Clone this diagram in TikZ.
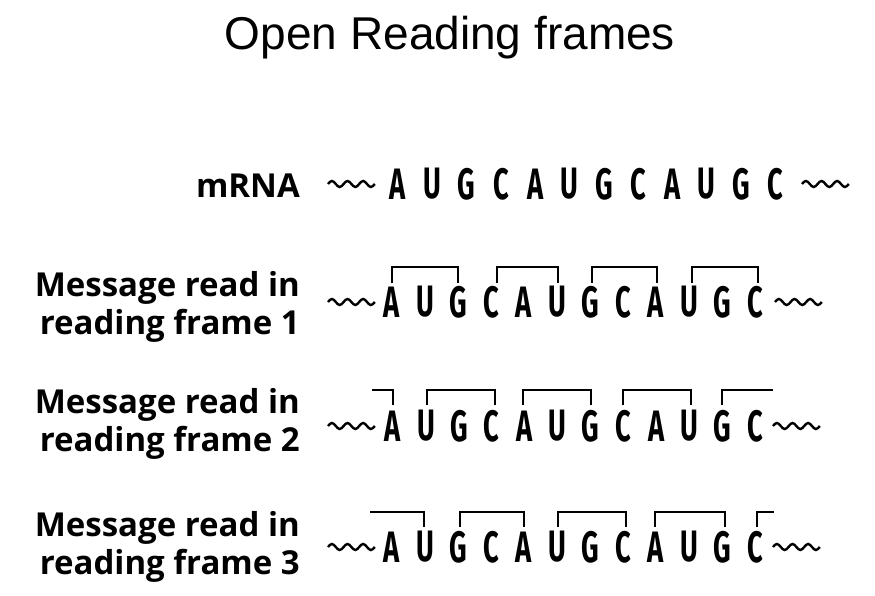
\documentclass[tikz,border=0pt]{standalone}
\usepackage{fontspec}
\setmainfont{Liberation Sans}
\newfontfamily\lab{Open Sans}
\newfontfamily\nuc{Fira Sans}
\newcommand\wavepart{sin ++(3.9,-3) cos ++(3.9,3) sin ++(3.9,3) cos ++(3.9,-3)}
\begin{document}
\begin{tikzpicture}[x=1pt,y=-1pt,
  lbl/.style={font=\lab\bfseries\fontsize{33}{38}\selectfont,anchor=east,align=right,inner sep=0},
  base/.style={font=\nuc\bfseries\fontsize{44}{44}\selectfont,xscale=0.62,transform shape,inner sep=0},
  brk/.style={line width=2.8pt},
  wave/.style={line width=2.4pt}]
\useasboundingbox (0,0) rectangle (875,596);
\fill[white] (0,0) rectangle (875,596);
\node[font=\fontsize{46}{50}\selectfont] (title) at (450,38) {Open Reading frames};
\node[lbl] (l0) at (300,186) {mRNA};
\node[lbl] (l1) at (300,307) {Message read in\\reading frame 1};
\node[lbl] (l2) at (300,424) {Message read in\\reading frame 2};
\node[lbl] (l3) at (300,547) {Message read in\\reading frame 3};
\foreach \r/\y/\x/\d in {0/184/398/34.3, 1/302/392/33.0, 2/426/393/32.9, 3/547/392/33.0}{
  \foreach \b [count=\i] in {A,U,G,C,A,U,G,C,A,U,G,C}{
    \node[base] (b\r-\i) at ({\x+(\i-1)*\d},\y) {\b};
  }
}
\foreach \xa/\ya in {328/184, 802/184, 328/302, 775/302, 328/426, 773/426, 328/547, 773/547}{
  \draw[wave] (\xa,\ya) \wavepart \wavepart \wavepart;
}
% frame 1
\draw[brk] (392,283) |- (458,267) -- (458,283);
\draw[brk] (497,283) |- (558,267) -- (558,283);
\draw[brk] (592,283) |- (657,267) -- (657,283);
\draw[brk] (692,283) |- (758,267) -- (758,283);
% frame 2
\draw[brk] (372,390) -| (393,405);
\draw[brk] (427,405) |- (495,390) -- (495,405);
\draw[brk] (523,405) |- (591,390) -- (591,405);
\draw[brk] (623,405) |- (691,390) -- (691,405);
\draw[brk] (722,405) |- (773,390);
% frame 3
\draw[brk] (370,512) -| (424,527);
\draw[brk] (460,527) |- (524,512) -- (524,527);
\draw[brk] (558,527) |- (626,512) -- (626,527);
\draw[brk] (655,527) |- (725,512) -- (725,527);
\draw[brk] (757,527) |- (774,512);
\end{tikzpicture}
\end{document}
